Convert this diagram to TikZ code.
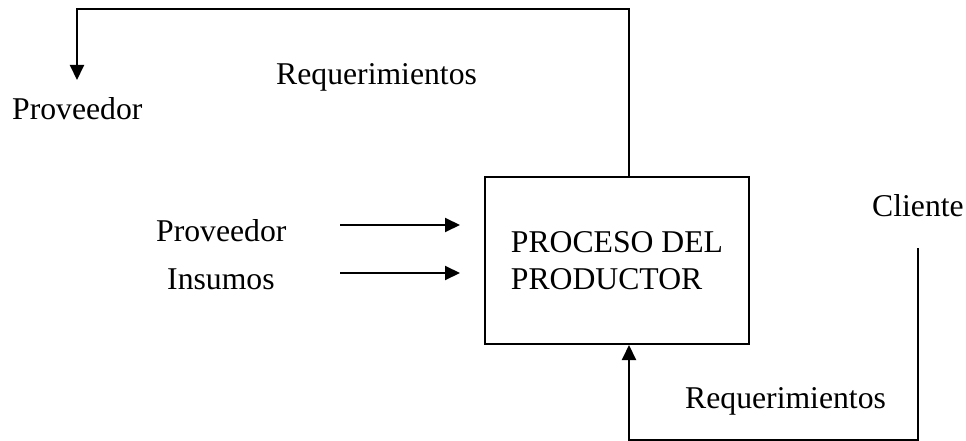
\documentclass[tikz,border=0pt]{standalone}
\usepackage{fontspec}
\setmainfont{Liberation Serif}
\usetikzlibrary{arrows.meta,calc}

\tikzset{
  lbl/.style={inner sep=0pt, anchor=base west, font=\fontsize{31.7}{37}\selectfont},
  procbox/.style={draw, line width=2pt, minimum width=264pt, minimum height=167pt,
    inner sep=0pt, align=left, font=\fontsize{31.7}{37}\selectfont},
  flow/.style={line width=2pt, -{Triangle[length=15pt, width=14pt]}},
  wire/.style={line width=2pt}
}

\begin{document}
\begin{tikzpicture}[x=1pt, y=-1pt]
  \useasboundingbox (0,0) rectangle (966,441);

  % central process
  \node[procbox] (proc) at (617,260.5) {PROCESO DEL\\PRODUCTOR};

  % labels
  \node[lbl] (provtop) at (12,120) {Proveedor};
  \node[lbl] (reqtop) at (276,85) {Requerimientos};
  \node[lbl] (provin) at (156,241) {Proveedor};
  \node[lbl] (insumos) at (167,289) {Insumos};
  \node[lbl] (cliente) at (872,216) {Cliente};
  \node[lbl] (reqbot) at (685,408) {Requerimientos};

  % route points
  \coordinate (tr) at (629,9);
  \coordinate (tl) at (77,9);
  \coordinate (ptip) at (77,80);
  \coordinate (cb) at (918,248);
  \coordinate (br) at (918,440);
  \coordinate (bl) at (629,440);
  \coordinate (a1s) at (340,225);
  \coordinate (a1e) at (460,225);
  \coordinate (a2s) at (340,273);
  \coordinate (a2e) at (460,273);

  % requirements back to supplier
  \draw[flow] (proc.north -| tr) -- (tr) -- (tl) -- (ptip);

  % requirements from client
  \draw[flow] (cb) -- (br) -- (bl) -- (proc.south -| bl);

  % inputs
  \draw[flow] (a1s) -- (a1e);
  \draw[flow] (a2s) -- (a2e);
\end{tikzpicture}
\end{document}
